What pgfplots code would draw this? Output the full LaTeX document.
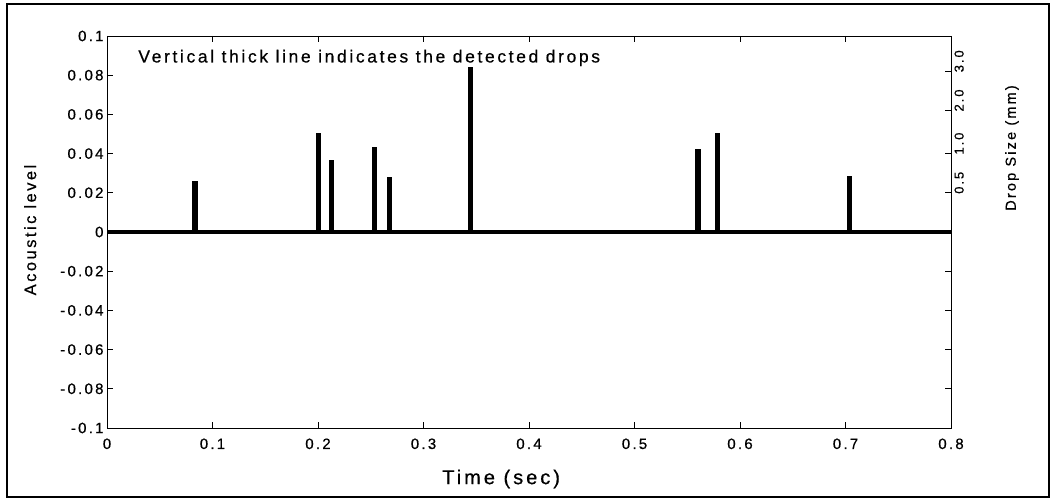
\documentclass[border=0pt]{standalone}
\usepackage{pgfplots}
\pgfplotsset{compat=1.18}
\usepackage{fontspec}
\setmainfont{Liberation Sans}[LetterSpace=15, FakeBold=0.6]

% detected drops: time (s), acoustic level
\pgfplotstableread{
t       level
0.0834  0.0262
0.2006  0.0507
0.2130  0.0367
0.2534  0.0435
0.2680  0.0282
0.3444  0.0843
0.5600  0.0423
0.5785  0.0507
0.7036  0.0286
}\drops

\begin{document}
\begin{tikzpicture}[x=1bp,y=1bp]
\path (0,0) rectangle (1055,499);
\draw[line width=1.5bp] (7,2) rectangle (1049,495);

% acoustic level axis
\begin{axis}[
  at={(107bp,71bp)}, anchor=south west,
  scale only axis, width=844bp, height=392bp,
  xmin=0, xmax=0.8, ymin=-0.1, ymax=0.1,
  clip=false,
  axis line style={line width=0.8bp},
  tick align=inside, major tick length=6bp,
  every tick/.style={black, line width=0.8bp},
  xtick={0,0.1,0.2,0.3,0.4,0.5,0.6,0.7,0.8},
  xticklabels={0,0.1,0.2,0.3,0.4,0.5,0.6,0.7,0.8},
  xtick pos=both, xticklabel pos=bottom,
  ytick={-0.1,-0.08,-0.06,-0.04,-0.02,0,0.02,0.04,0.06,0.08,0.1},
  yticklabels={-0.1,-0.08,-0.06,-0.04,-0.02,0,0.02,0.04,0.06,0.08,0.1},
  ytick pos=left,
  tick label style={font=\fontsize{15bp}{15bp}\selectfont},
  xticklabel style={yshift=-7bp},
  xlabel={Time (sec)},
  xlabel style={at={(axis description cs:0.467,-0.13)}, anchor=center,
    font=\fontsize{20bp}{20bp}\selectfont},
  ylabel={Acoustic level},
  ylabel style={at={(axis description cs:-0.091,0.505)}, anchor=center, rotate=0,
    font=\fontsize{16.5bp}{16.5bp}\selectfont},
]
\addplot[black, line width=3.5bp] coordinates {(0,0) (0.8,0)};
\addplot[black, ycomb, line width=5.5bp, mark=none] table[x=t, y=level] {\drops};
\node[anchor=west, font=\fontsize{17.5bp}{17.5bp}\selectfont]
  at (axis description cs:0.033,0.944) {Vertical thick line indicates the detected drops};
\end{axis}

% drop size scale on the right
\begin{axis}[
  at={(107bp,71bp)}, anchor=south west,
  scale only axis, width=844bp, height=392bp,
  xmin=0, xmax=0.8, ymin=-0.1, ymax=0.1,
  axis x line=none, axis y line*=right,
  axis line style={line width=0.8bp},
  tick align=inside, major tick length=6bp,
  every tick/.style={black, line width=0.8bp},
  ytick={-0.08,-0.06,-0.04,-0.02,0.02,0.04,0.062,0.082},
  yticklabels={,,,,0.5,1.0,2.0,3.0},
  yticklabel style={rotate=90, anchor=north, xshift=10bp,
    font=\fontsize{13bp}{13bp}\selectfont},
]
\end{axis}
\node[rotate=90, font=\fontsize{14.5bp}{14.5bp}\selectfont] at (1012,351) {Drop Size (mm)};
\end{tikzpicture}
\end{document}
